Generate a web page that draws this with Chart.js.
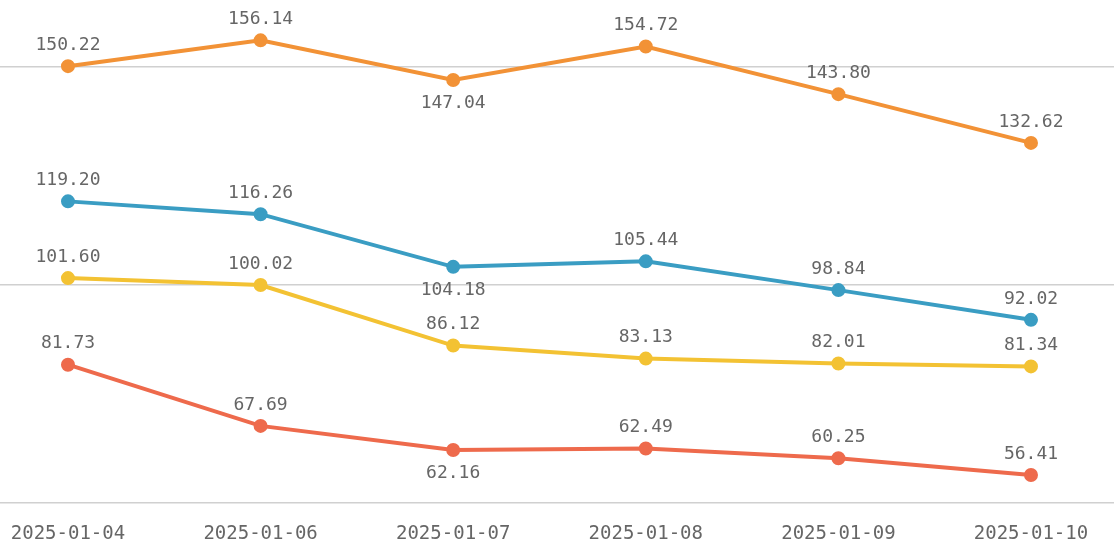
<!DOCTYPE html>
<html>
<head>
<meta charset="utf-8">
<script src="https://cdn.jsdelivr.net/npm/chart.js@4/dist/chart.umd.min.js"></script>
<style>
  html, body { margin: 0; padding: 0; background: #fff; }
  #wrap { width: 1114px; height: 547px; position: relative; }
</style>
</head>
<body>
<div id="wrap"><canvas id="chart"></canvas></div>
<script>
const dates = ['2025-01-04', '2025-01-06', '2025-01-07', '2025-01-08', '2025-01-09', '2025-01-10'];
const orangeValues = [150.22, 156.14, 147.04, 154.72, 143.80, 132.62];
const blueValues = [119.20, 116.26, 104.18, 105.44, 98.84, 92.02];
const yellowValues = [101.60, 100.02, 86.12, 83.13, 82.01, 81.34];
const redValues = [81.73, 67.69, 62.16, 62.49, 60.25, 56.41];
const gridValues = [50, 100, 150];

const seriesList = [
  { values: orangeValues, color: '#f29236' },
  { values: blueValues, color: '#3a9dc3' },
  { values: yellowValues, color: '#f3c233' },
  { values: redValues, color: '#ee6a4c' }
];

const labelFont = '18px "DejaVu Sans Mono", monospace';

// value labels: below the point when it is a dip between neighbours, above otherwise
const valueLabels = {
  id: 'valueLabels',
  afterDatasetsDraw(chart) {
    const ctx = chart.ctx;
    ctx.save();
    ctx.font = labelFont;
    ctx.fillStyle = '#666';
    ctx.textAlign = 'center';
    ctx.textBaseline = 'middle';
    chart.data.datasets.forEach((ds, i) => {
      const meta = chart.getDatasetMeta(i);
      const vals = seriesList[i].values;
      meta.data.forEach((pt, j) => {
        const dip = j > 0 && j < vals.length - 1 && vals[j] < vals[j - 1] && vals[j] < vals[j + 1];
        const y = dip ? pt.y + 23 : pt.y - 21;
        ctx.fillText(vals[j].toFixed(2), pt.x, y);
      });
    });
    ctx.restore();
  }
};

new Chart(document.getElementById('chart'), {
  type: 'line',
  data: {
    datasets: seriesList.map(s => ({
      data: s.values.map((v, i) => ({ x: i, y: v })),
      borderColor: s.color,
      backgroundColor: s.color,
      borderWidth: 4,
      pointRadius: 5,
      pointHoverRadius: 5,
      tension: 0
    }))
  },
  options: {
    responsive: true,
    maintainAspectRatio: false,
    animation: false,
    layout: { padding: 0, autoPadding: false },
    plugins: {
      legend: { display: false },
      tooltip: { enabled: false }
    },
    scales: {
      x: {
        type: 'linear',
        min: -0.353,
        max: 5.431,
        afterBuildTicks: axis => { axis.ticks = dates.map((d, i) => ({ value: i })); },
        afterFit: axis => {
          axis.height = 44;
          axis.paddingLeft = 0;
          axis.paddingRight = 0;
        },
        grid: { display: false, drawTicks: false },
        border: { display: false },
        ticks: {
          autoSkip: false,
          maxRotation: 0,
          padding: 20,
          color: '#666',
          font: { family: '"DejaVu Sans Mono", monospace', size: 19 },
          callback: v => dates[v]
        }
      },
      y: {
        min: 50,
        max: 165.4,
        afterBuildTicks: axis => { axis.ticks = gridValues.map(v => ({ value: v })); },
        afterFit: axis => { axis.width = 0; },
        grid: { color: '#d0d0d0', lineWidth: 1.5, drawTicks: false },
        border: { display: false },
        ticks: { display: false }
      }
    }
  },
  plugins: [valueLabels]
});
</script>
</body>
</html>
